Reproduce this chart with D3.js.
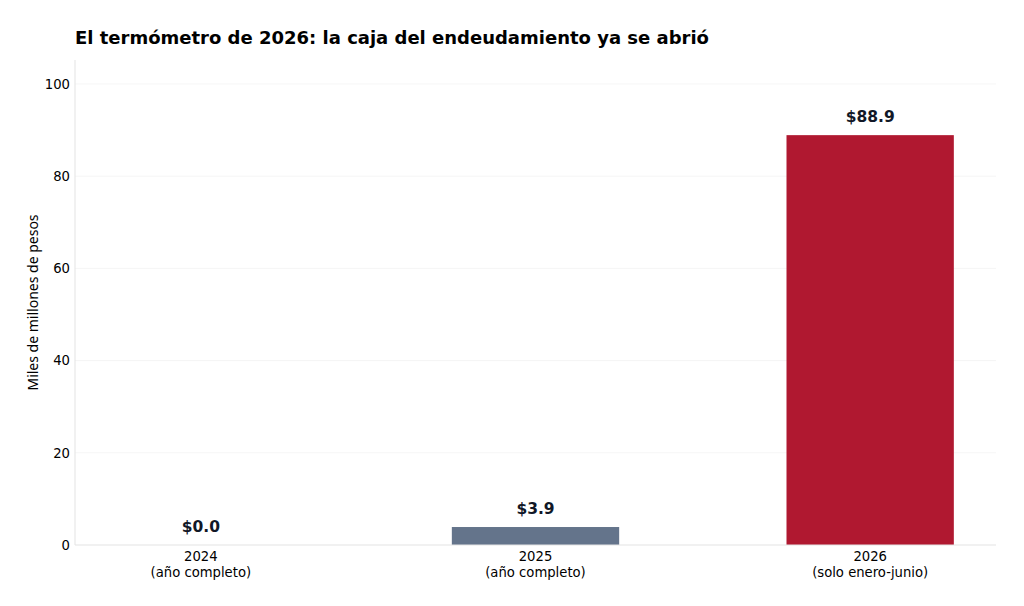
<!DOCTYPE html>
<html><head><meta charset="utf-8">
<script src="https://cdn.jsdelivr.net/npm/d3@7/dist/d3.min.js"></script>
<style>body{margin:0;background:#fff}svg{display:block}</style>
</head><body>
<svg id="c" width="1024" height="606"></svg>
<script>
const years = ["2024", "2025", "2026"];
const periods = ["(año completo)", "(año completo)", "(solo enero-junio)"];
const values = [0.0, 3.9, 88.9];
const valueLabels = ["$0.0", "$3.9", "$88.9"];
const barColors = ["#64748b", "#64748b", "#b01830"];
const yTicks = [0, 20, 40, 60, 80, 100];
const titleText = "El termómetro de 2026: la caja del endeudamiento ya se abrió";
const yLabelText = "Miles de millones de pesos";

const svg = d3.select("#c");
const L = 75, R = 996, T = 60, B = 545;

const x = d3.scaleLinear().domain([-0.376, 2.376]).range([L, R]);
const y = d3.scaleLinear().domain([0, 105.2]).range([B, T]);
const bw = x(0.25) - x(-0.25);

// grid
svg.append("g").selectAll("line").data(yTicks.filter(d => d > 0)).join("line")
  .attr("x1", L).attr("x2", R).attr("y1", d => y(d)).attr("y2", d => y(d))
  .attr("stroke", "#f3f3f3").attr("stroke-width", 0.8);

// bars
svg.append("g").selectAll("rect").data(values).join("rect")
  .attr("x", (d, i) => x(i) - bw / 2).attr("width", bw)
  .attr("y", d => y(d)).attr("height", d => B - y(d))
  .attr("fill", (d, i) => barColors[i]);

// spines
svg.append("line").attr("x1", L).attr("x2", L).attr("y1", T).attr("y2", B)
  .attr("stroke", "#e3e3e3").attr("stroke-width", 1);
svg.append("line").attr("x1", L).attr("x2", R).attr("y1", B).attr("y2", B)
  .attr("stroke", "#e3e3e3").attr("stroke-width", 1);

// y axis ticks
const yAxis = d3.axisLeft(y).tickValues(yTicks).tickSize(0).tickPadding(5);
const gy = svg.append("g").attr("transform", `translate(${L},0)`).call(yAxis);
gy.select(".domain").remove();
gy.selectAll("text").attr("font-family", "DejaVu Sans").attr("font-size", 13.2).attr("fill", "#000");

// x labels
const xl = svg.append("g").selectAll("text").data(years).join("text")
  .attr("x", (d, i) => x(i)).attr("y", 561)
  .attr("text-anchor", "middle").attr("font-family", "DejaVu Sans")
  .attr("font-size", 13.2).attr("fill", "#000");
xl.append("tspan").attr("x", (d, i) => x(i)).text(d => d);
xl.append("tspan").attr("x", (d, i) => x(i)).attr("dy", 15.5).text((d, i) => periods[i]);

// value labels
svg.append("g").selectAll("text").data(values).join("text")
  .attr("x", (d, i) => x(i)).attr("y", d => y(d) - 13)
  .attr("text-anchor", "middle").attr("font-family", "DejaVu Sans")
  .attr("font-weight", "bold").attr("font-size", 15.5).attr("fill", "#111827")
  .text((d, i) => valueLabels[i]);

// y label
svg.append("text").attr("transform", `translate(38,${(T + B) / 2 + 0}) rotate(-90)`)
  .attr("text-anchor", "middle").attr("font-family", "Noto Sans")
  .attr("font-size", 14).attr("fill", "#000").text(yLabelText);

// title
svg.append("text").attr("x", L).attr("y", 44)
  .attr("font-family", "DejaVu Sans").attr("font-weight", "bold")
  .attr("font-size", 18).attr("fill", "#000").text(titleText);
</script>
</body></html>
